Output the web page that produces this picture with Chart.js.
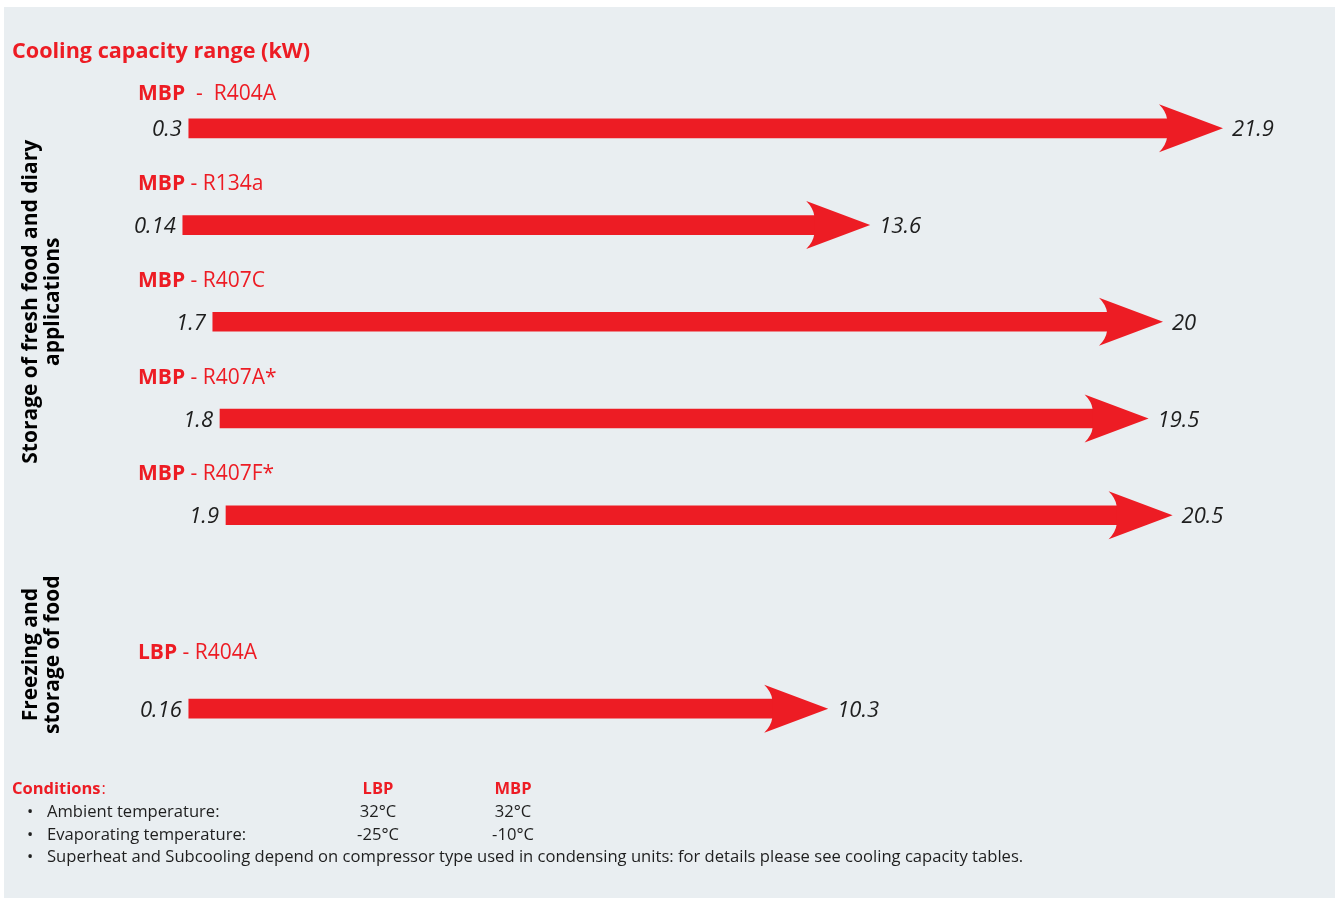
<!DOCTYPE html>
<html>
<head>
<meta charset="utf-8">
<title>Cooling capacity range (kW)</title>
<script src="https://cdn.jsdelivr.net/npm/chart.js@4.4.1/dist/chart.umd.min.js"></script>
<style>
  html, body { margin: 0; padding: 0; background: #ffffff; }
  #wrap { width: 1341px; height: 899px; }
</style>
</head>
<body>
<div id="wrap"><canvas id="chart" width="1341" height="899"></canvas></div>
<script>
// Condensing unit ranges (one row per refrigerant)
const bpType = ["MBP", "MBP", "MBP", "MBP", "MBP", "LBP"];
const refrigerants = ["R404A", "R134a", "R407C", "R407A*", "R407F*", "R404A"];
const capacityMin = ["0.3", "0.14", "1.7", "1.8", "1.9", "0.16"];
const capacityMax = ["21.9", "13.6", "20", "19.5", "20.5", "10.3"];
// drawn arrow extent (schematic, % of plot width)
const arrowStart = [7.4, 6.9, 9.4, 10.0, 10.5, 7.4];
const arrowEnd = [89.0, 59.6, 84.0, 82.8, 84.8, 56.1];

const groups = [
  { lines: ["Storage of fresh food and diary", "applications"], rows: [0, 4] },
  { lines: ["Freezing and", "storage of food"], rows: [5, 5] }
];

const condHead = ["LBP", "MBP"];
const condRows = [
  ["Ambient temperature:", "32°C", "32°C"],
  ["Evaporating temperature:", "-25°C", "-10°C"],
  ["Superheat and Subcooling depend on compressor type used in condensing units: for details please see cooling capacity tables.", "", ""]
];

const RED = "#ed1c24";
const INK = "#1e1e1e";
const FONT = "'Open Sans', 'Noto Sans', sans-serif";

// a blank slot separates the MBP group from the LBP row
const slots = [0, 1, 2, 3, 4, null, 5];
const labels = slots.map(i => i === null ? "" : bpType[i] + " - " + refrigerants[i]);
const ranges = slots.map(i => i === null ? null : [arrowStart[i], arrowEnd[i]]);

const decor = {
  id: "decor",
  beforeDraw(chart) {
    const ctx = chart.ctx;
    ctx.save();
    ctx.fillStyle = "#e9eef1";
    ctx.fillRect(4, 7, 1331, 891);
    ctx.restore();
  },
  afterDatasetsDraw(chart) {
    const ctx = chart.ctx;
    const bars = chart.getDatasetMeta(0).data;
    const rowBar = i => bars[slots.indexOf(i)];
    ctx.save();

    // arrow heads + value labels + row captions
    slots.forEach((i, k) => {
      if (i === null) return;
      const b = bars[k];
      const x = b.x, y = b.y;
      ctx.fillStyle = RED;
      ctx.beginPath();
      ctx.moveTo(x - 1, y - 9.5);
      ctx.quadraticCurveTo(x - 2, y - 17, x - 9, y - 24);
      ctx.lineTo(x + 55, y);
      ctx.lineTo(x - 9, y + 24);
      ctx.quadraticCurveTo(x - 2, y + 17, x - 1, y + 9.5);
      ctx.closePath();
      ctx.fill();

      ctx.fillStyle = INK;
      ctx.font = "italic 22px " + FONT;
      ctx.textBaseline = "alphabetic";
      ctx.textAlign = "right";
      ctx.fillText(capacityMin[i], b.base - 7, y + 8);
      ctx.textAlign = "left";
      ctx.fillText(capacityMax[i], x + 64, y + 8);

      const ly = y - (bpType[i] === "LBP" ? 50 : (i === 0 ? 28 : 35));
      ctx.fillStyle = RED;
      ctx.font = "bold 21px " + FONT;
      ctx.fillText(bpType[i], 138, ly);
      const w = ctx.measureText(bpType[i]).width;
      ctx.font = "21px " + FONT;
      ctx.fillText((i === 0 ? "  -  " : " - ") + refrigerants[i], 138 + w, ly);
    });

    // rotated group captions
    ctx.fillStyle = "#000000";
    ctx.font = "bold 21px " + FONT;
    ctx.textAlign = "center";
    ctx.textBaseline = "middle";
    groups.forEach((g, gi) => {
      const a = rowBar(g.rows[0]).y, b = rowBar(g.rows[1]).y;
      const cy = gi === 0 ? (a + b) / 2 - 20 : a - 54;
      g.lines.forEach((t, li) => {
        ctx.save();
        ctx.translate(31 + li * 22, cy);
        ctx.rotate(-Math.PI / 2);
        ctx.fillText(t, 0, 0);
        ctx.restore();
      });
    });

    // title
    ctx.textAlign = "left";
    ctx.textBaseline = "alphabetic";
    ctx.fillStyle = RED;
    ctx.font = "bold 21.6px " + FONT;
    ctx.fillText("Cooling capacity range (kW)", 12, 58);

    // conditions
    ctx.font = "bold 16.5px " + FONT;
    ctx.fillText("Conditions", 12, 794);
    const cw = ctx.measureText("Conditions").width;
    ctx.font = "16.5px " + FONT;
    ctx.fillText(":", 12 + cw + 1, 794);
    ctx.font = "bold 16.5px " + FONT;
    ctx.textAlign = "center";
    ctx.fillText(condHead[0], 378, 794);
    ctx.fillText(condHead[1], 513, 794);
    ctx.font = "16.6px " + FONT;
    ctx.fillStyle = INK;
    condRows.forEach((r, j) => {
      const by = 817 + j * 22.5;
      ctx.textAlign = "left";
      ctx.fillText("•", 27, by);
      ctx.fillText(r[0], 47, by);
      ctx.textAlign = "center";
      ctx.fillText(r[1], 378, by);
      ctx.fillText(r[2], 513, by);
    });
    ctx.restore();
  }
};

new Chart(document.getElementById("chart"), {
  type: "bar",
  data: {
    labels: labels,
    datasets: [{
      data: ranges,
      backgroundColor: RED,
      borderWidth: 0,
      barThickness: 19
    }]
  },
  options: {
    indexAxis: "y",
    responsive: false,
    animation: false,
    devicePixelRatio: 1,
    layout: { padding: { left: 100, right: 41, top: 80, bottom: 142 } },
    scales: {
      x: { type: "linear", min: 0, max: 100, display: false },
      y: { display: false }
    },
    plugins: {
      legend: { display: false },
      tooltip: { enabled: false }
    }
  },
  plugins: [decor]
});
</script>
</body>
</html>
